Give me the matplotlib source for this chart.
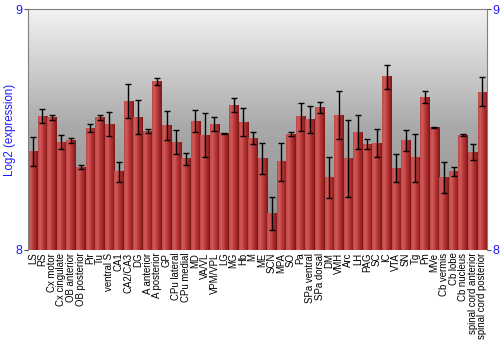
import numpy as np
import matplotlib
matplotlib.use("Agg")
import matplotlib.pyplot as plt
from matplotlib.colors import LinearSegmentedColormap

regions = ["LS", "RS", "Cx motor", "Cx cingulate", "OB anterior", "OB posterior",
           "Pir", "Tu", "ventral S", "CA1", "CA2/CA3", "DG", "A anterior",
           "A posterior", "GP", "CPu lateral", "CPu medial", "MD", "VA/VL",
           "VPM/VPL", "LG", "MG", "Hb", "M", "ME", "SCN", "MPA", "SO", "Pa",
           "SPa ventral", "SPa dorsal", "DM", "VMH", "Arc", "LH", "PAG", "SC",
           "IC", "VTA", "SN", "Tg", "Pn", "MVe", "Cb vermis", "Cb lobe",
           "Cb nucleus", "spinal cord anterior", "spinal cord posterior"]

expression = [8.408, 8.556, 8.549, 8.447, 8.454, 8.344, 8.506, 8.549, 8.523,
              8.324, 8.617, 8.551, 8.494, 8.698, 8.515, 8.448, 8.379, 8.534,
              8.477, 8.523, 8.483, 8.602, 8.531, 8.465, 8.378, 8.151, 8.366,
              8.481, 8.553, 8.542, 8.593, 8.302, 8.560, 8.378, 8.490, 8.440,
              8.444, 8.719, 8.340, 8.454, 8.383, 8.635, 8.508, 8.300, 8.326,
              8.477, 8.405, 8.656]

errors = [0.06, 0.03, 0.01, 0.03, 0.01, 0.01, 0.015, 0.01, 0.05, 0.04, 0.07,
          0.07, 0.01, 0.015, 0.06, 0.05, 0.025, 0.045, 0.09, 0.03, 0.003, 0.03,
          0.06, 0.026, 0.064, 0.07, 0.08, 0.01, 0.058, 0.055, 0.023, 0.085,
          0.10, 0.16, 0.072, 0.02, 0.06, 0.05, 0.058, 0.042, 0.10, 0.024,
          0.003, 0.064, 0.02, 0.006, 0.033, 0.06]

blue = "#1a1aff"
plt.rcParams['font.family'] = ['Liberation Sans', 'DejaVu Sans']

fig = plt.figure(figsize=(5, 3.5), dpi=100)
ax = fig.add_axes([0.056, 0.286, 0.918, 0.688])

# gray background gradient, light at top
bg = np.linspace(0, 1, 256).reshape(-1, 1)
bg_cmap = LinearSegmentedColormap.from_list("bg", ["#f2f2f2", "#a8a8a8", "#8c8c8c"])
ax.imshow(bg, cmap=bg_cmap, extent=[0, 1, 0, 1], transform=ax.transAxes,
          aspect='auto', zorder=0)

x = np.arange(len(regions))
bars = ax.bar(x, np.array(expression) - 8, bottom=8, width=0.97,
              color="#a82a2a", edgecolor="none", zorder=1)

# cylinder-like shading on each bar
bar_cmap = LinearSegmentedColormap.from_list(
    "bar", ["#bc4848", "#d05c5c", "#bc3a3a", "#a42828", "#7a1616"])
grad = np.linspace(0, 1, 64).reshape(1, -1)
for b in bars:
    x0 = b.get_x()
    ax.imshow(grad, cmap=bar_cmap, aspect='auto', zorder=2,
              extent=[x0, x0 + b.get_width(), b.get_y(), b.get_y() + b.get_height()])

ax.errorbar(x, expression, yerr=errors, fmt='none', ecolor='black',
            elinewidth=1, capsize=2, capthick=1, zorder=3)

ax.set_xlim(-0.5, len(regions) - 0.5)
ax.set_ylim(8, 9)
ax.set_xticks(x)
ax.set_xticklabels(regions, rotation=90, fontsize=6.9)
ax.tick_params(axis='x', length=0, pad=2)
ax.set_yticks([8, 9])
ax.tick_params(axis='y', colors="#555555", labelcolor=blue, labelsize=9,
               length=3, left=True, right=True, labelleft=True, labelright=True, pad=1)
ax.set_ylabel("Log2 (expression)", color=blue, fontsize=8.3)
ax.yaxis.set_label_coords(-0.026, 0.5)

for side in ["top", "left", "right"]:
    ax.spines[side].set_color("#808080")
ax.spines["bottom"].set_visible(False)

fig.savefig("out.png", dpi=100)
